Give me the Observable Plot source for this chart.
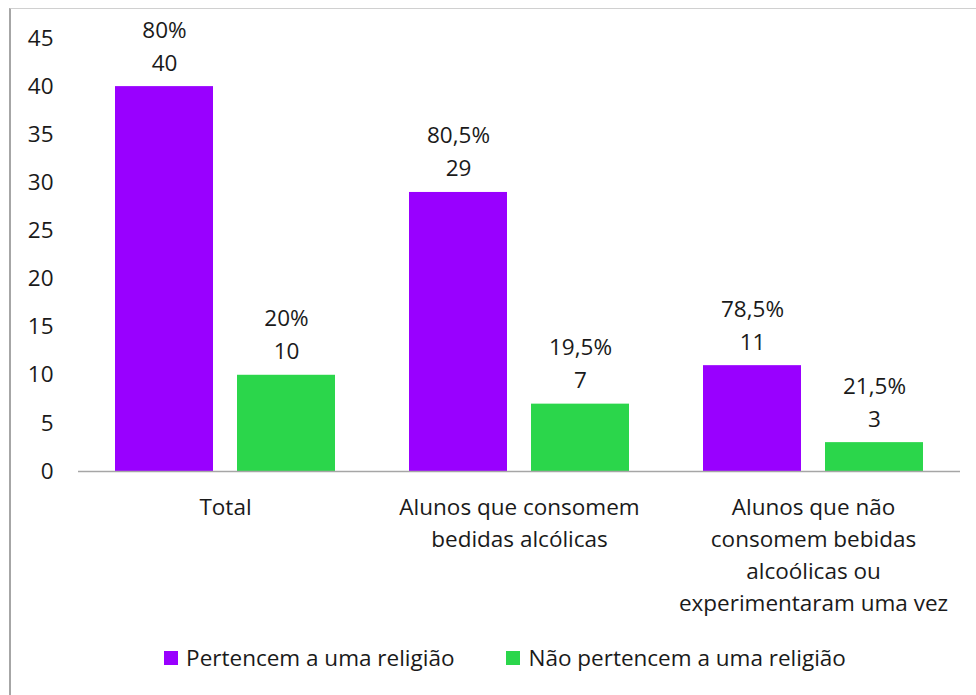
<!DOCTYPE html>
<html>
<head>
<meta charset="utf-8">
<script src="https://cdn.jsdelivr.net/npm/d3@7"></script>
<script src="https://cdn.jsdelivr.net/npm/@observablehq/plot@0.6"></script>
<style>
  html, body { margin: 0; padding: 0; background: #fff; }
  #wrap { position: relative; width: 976px; height: 695px; overflow: hidden; font-family: "Open Sans", sans-serif; color: #1a1a1a; }
  #frame { position: absolute; left: 9px; top: 8px; width: 1000px; height: 1000px; border-left: 2px solid #a6a6a6; border-top: 1px solid #d0d0d0; box-sizing: border-box; pointer-events: none; }
  #chart { position: absolute; left: 0; top: 0; }
  #legend { position: absolute; left: 0; width: 1010px; top: 642px; display: flex; justify-content: center; gap: 52px; font-size: 22.5px; }
  .item { display: flex; align-items: center; gap: 8px; }
  .sw { width: 14px; height: 14px; display: inline-block; }
</style>
</head>
<body>
<div id="wrap">
  <div id="frame"></div>
  <div id="chart"></div>
  <div id="legend"></div>
</div>
<script>
const categories = [
  "Total",
  "Alunos que consomem\nbedidas alcólicas",
  "Alunos que não\nconsomem bebidas\nalcoólicas ou\nexperimentaram uma vez"
];
const series = ["Pertencem a uma religião", "Não pertencem a uma religião"];
const pertencem = [40, 29, 11];
const naoPertencem = [10, 7, 3];
const pctPertencem = ["80%", "80,5%", "78,5%"];
const pctNao = ["20%", "19,5%", "21,5%"];
const yTicks = [0, 5, 10, 15, 20, 25, 30, 35, 40, 45];
const colors = ["#9900ff", "#2bd64b"];

const data = [];
categories.forEach((c, i) => {
  data.push({cat: c, serie: series[0], value: pertencem[i], pct: pctPertencem[i]});
  data.push({cat: c, serie: series[1], value: naoPertencem[i], pct: pctNao[i]});
});

const chart = Plot.plot({
  width: 976,
  height: 625,
  marginTop: 38,
  marginBottom: 154,
  marginLeft: 78,
  marginRight: 16,
  style: {fontSize: "22.5px", fontFamily: "Open Sans, sans-serif", color: "#1a1a1a", background: "transparent"},
  fx: {domain: categories, padding: 0, label: null, axis: null},
  x: {domain: series, paddingInner: 0.2, paddingOuter: 0.3, axis: null},
  y: {domain: [0, 45], ticks: yTicks, tickSize: 0, tickPadding: 25, label: null},
  color: {domain: series, range: colors},
  marks: [
    Plot.axisFx({domain: categories, anchor: "bottom", tickSize: 0, tickPadding: 21, lineHeight: 1.42, label: null, fontSize: 22.5}),
    Plot.barY(data, {fx: "cat", x: "serie", y: "value", fill: "serie"}),
    Plot.ruleY([0], {stroke: "#a6a6a6", strokeWidth: 1.5}),
    Plot.text(data, {fx: "cat", x: "serie", y: "value", text: d => d.pct + "\n" + d.value, lineAnchor: "bottom", lineHeight: 1.47, dy: -16, fill: "#1a1a1a", fontSize: 22.5})
  ]
});
document.getElementById("chart").appendChild(chart);

const legend = document.getElementById("legend");
series.forEach((s, i) => {
  const item = document.createElement("div");
  item.className = "item";
  const sw = document.createElement("span");
  sw.className = "sw";
  sw.style.background = colors[i];
  const t = document.createElement("span");
  t.textContent = s;
  item.appendChild(sw);
  item.appendChild(t);
  legend.appendChild(item);
});
</script>
</body>
</html>
